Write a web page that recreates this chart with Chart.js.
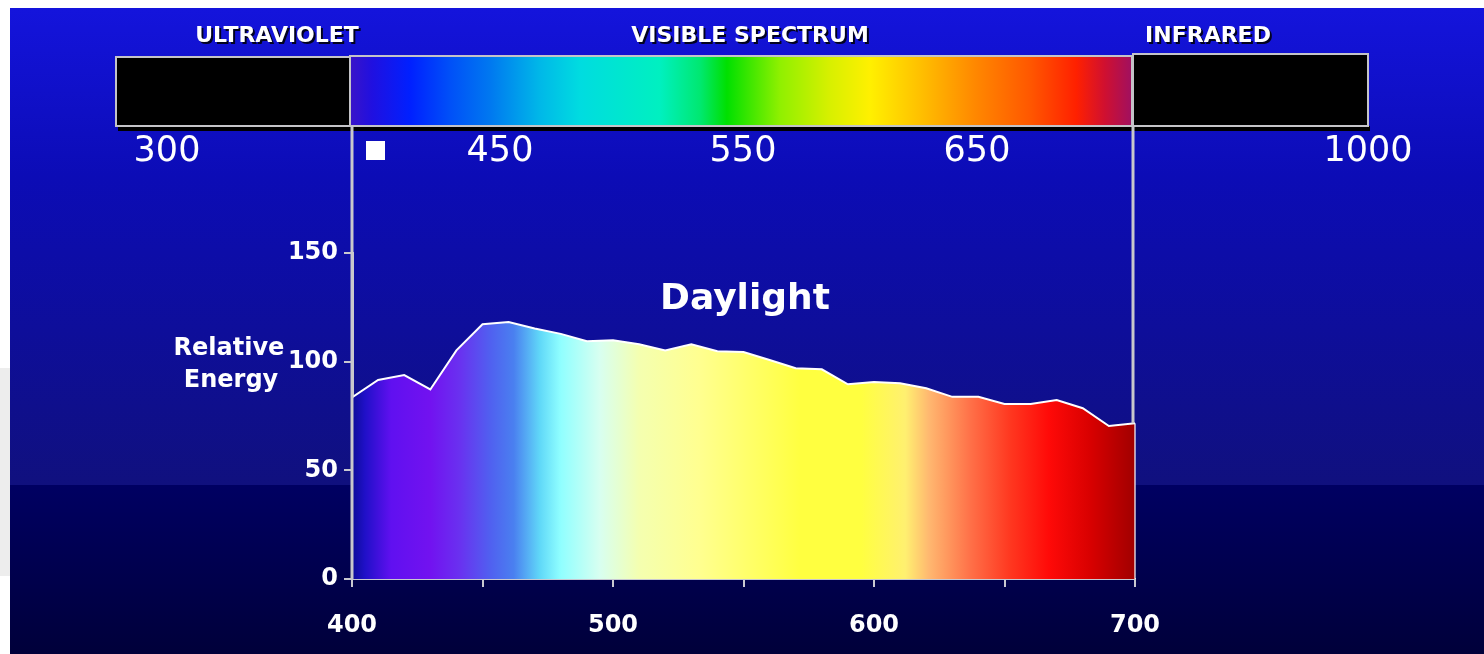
<!DOCTYPE html>
<html>
<head>
<meta charset="utf-8">
<script src="https://cdn.jsdelivr.net/npm/chart.js@4.4.0/dist/chart.umd.min.js"></script>
<style>
  html, body { margin: 0; padding: 0; background: #fff; }
  #wrap { width: 1484px; height: 654px; position: relative; }
</style>
</head>
<body>
<div id="wrap"><canvas id="chart"></canvas></div>
<script>
// daylight spectrum, relative energy every 10 nm
const wavelengths = [400, 410, 420, 430, 440, 450, 460, 470, 480, 490, 500, 510, 520, 530, 540, 550,
    560, 570, 580, 590, 600, 610, 620, 630, 640, 650, 660, 670, 680, 690, 700];
const energy = [83.5, 91.6, 93.8, 87.2, 105.2, 117.2, 118.2, 115.3, 112.8, 109.4, 109.8, 108.0, 105.2, 108.0, 104.8, 104.4,
    100.8, 97.0, 96.5, 89.6, 90.6, 90.1, 87.8, 83.8, 83.8, 80.5, 80.5, 82.3, 78.6, 70.4, 71.7];
const xLabelTicks = [400, 500, 600, 700];
const yTicks = [0, 50, 100, 150];
const bandNames = ['ULTRAVIOLET', 'VISIBLE SPECTRUM', 'INFRARED'];
const bandTicks = ['300', '450', '550', '650', '1000'];

const FONT = '"DejaVu Sans", Verdana, sans-serif';

const spectrumFill = (chart) => {
    const area = chart.chartArea;
    if (!area) return '#ff0';
    const x = chart.scales.x;
    const g = chart.ctx.createLinearGradient(area.left, 0, area.right, 0);
    const stops = [
        [400, '#0c0c98'], [405, '#2010c8'], [415, '#6010f0'], [430, '#7212f0'], [441, '#6a30f0'],
        [453, '#5060f0'], [462, '#4a80f0'], [472, '#60d8f8'], [480, '#90ffff'], [495, '#d8fff0'],
        [510, '#f4ffb0'], [533, '#ffff90'], [572, '#ffff40'], [595, '#ffff40'], [612, '#fff070'],
        [621, '#ffb870'], [637, '#ff7048'], [652, '#ff3820'], [667, '#ff0a08'], [683, '#d80000'], [700, '#a00000']
    ];
    stops.forEach(([nm, c]) => {
        g.addColorStop((x.getPixelForValue(nm) - area.left) / (area.right - area.left), c);
    });
    return g;
};

const backdrop = {
    id: 'backdrop',
    beforeDraw(chart) {
        const {ctx, width, height} = chart;
        ctx.save();
        ctx.fillStyle = '#fff';
        ctx.fillRect(0, 0, width, height);
        ctx.fillStyle = '#ededed';
        ctx.fillRect(0, 368, 10, 208);
        let g = ctx.createLinearGradient(0, 8, 0, 485);
        g.addColorStop(0, '#1414dc');
        g.addColorStop(0.35, '#0c0cb6');
        g.addColorStop(1, '#10107e');
        ctx.fillStyle = g;
        ctx.fillRect(10, 8, width - 10, 477);
        g = ctx.createLinearGradient(0, 485, 0, height);
        g.addColorStop(0, '#000062');
        g.addColorStop(1, '#00003a');
        ctx.fillStyle = g;
        ctx.fillRect(10, 485, width - 10, height - 485);
        ctx.restore();
    }
};

const decor = {
    id: 'decor',
    afterDatasetsDraw(chart) {
        const {ctx, chartArea} = chart;
        const x = chart.scales.x, y = chart.scales.y;
        const x0 = x.getPixelForValue(400), x1 = x.getPixelForValue(700);
        const barTop = 56, barBot = 126;
        ctx.save();

        // shadow under bar
        ctx.fillStyle = '#000';
        ctx.fillRect(118, barBot, 1252, 5);

        // ultraviolet / infrared boxes
        ctx.fillRect(116, barTop + 1, x0 - 2 - 116, barBot - barTop - 1);
        ctx.fillRect(x1 - 2, barTop - 2, 1368 - x1 + 2, barBot - barTop + 2);
        ctx.strokeStyle = '#c4c4c8';
        ctx.lineWidth = 2;
        ctx.strokeRect(116, barTop + 1, x0 - 2 - 116, barBot - barTop - 1);
        ctx.strokeRect(x1 - 2, barTop - 2, 1368 - x1 + 2, barBot - barTop + 2);

        // visible spectrum bar
        const g = ctx.createLinearGradient(x0 - 2, 0, x1 - 3, 0);
        const stops = [
            [0, '#3a14c8'], [0.028, '#2010e0'], [0.077, '#0020ff'], [0.128, '#0050f8'], [0.179, '#0078f0'],
            [0.243, '#00b8e8'], [0.294, '#00dce0'], [0.396, '#00f0c0'], [0.448, '#00e870'], [0.482, '#00e000'],
            [0.55, '#90f000'], [0.614, '#d8f000'], [0.665, '#fff000'], [0.729, '#ffc000'], [0.799, '#ff8800'],
            [0.869, '#ff5800'], [0.929, '#ff2000'], [0.965, '#d01030'], [1, '#a01060']
        ];
        stops.forEach(([p, c]) => g.addColorStop(p, c));
        ctx.fillStyle = g;
        ctx.fillRect(x0 - 2, barTop, x1 - x0 - 1, barBot - barTop);
        ctx.strokeRect(x0 - 2, barTop, x1 - x0 - 1, barBot - barTop);

        // guide lines from bar down to the chart
        ctx.strokeStyle = '#c8c8cc';
        ctx.lineWidth = 3;
        ctx.beginPath();
        ctx.moveTo(x0, barBot);
        ctx.lineTo(x0, chartArea.bottom);
        const yEnd = y.getPixelForValue(energy[energy.length - 1]);
        ctx.moveTo(x1 - 2, barBot);
        ctx.lineTo(x1 - 2, yEnd);
        ctx.stroke();
        ctx.strokeStyle = 'rgba(255,255,255,0.8)';
        ctx.lineWidth = 1.5;
        ctx.beginPath();
        ctx.moveTo(x1, yEnd);
        ctx.lineTo(x1, chartArea.bottom);
        ctx.stroke();

        // band names
        ctx.textAlign = 'center';
        ctx.textBaseline = 'middle';
        ctx.font = 'bold 22px ' + FONT;
        ctx.shadowColor = 'rgba(0,0,0,0.85)';
        ctx.shadowOffsetX = 2;
        ctx.shadowOffsetY = 2;
        ctx.fillStyle = '#fff';
        [277, 750, 1208].forEach((cx, i) => ctx.fillText(bandNames[i], cx, 36));
        ctx.shadowColor = 'transparent';

        // wavelength numbers under bar
        ctx.font = '35px ' + FONT;
        [167, 500, 743, 977, 1368].forEach((cx, i) => ctx.fillText(bandTicks[i], cx, 152));
        ctx.fillRect(366, 141, 19, 19);

        // titles
        ctx.font = 'bold 36px ' + FONT;
        ctx.fillText('Daylight', 745, 300);
        ctx.font = 'bold 24px ' + FONT;
        ctx.fillText('Relative', 229, 349);
        ctx.fillText('Energy', 231, 381);
        ctx.restore();
    }
};

const tickColor = '#c8c8d0';

new Chart(document.getElementById('chart'), {
    type: 'line',
    data: {
        datasets: [{
            data: wavelengths.map((w, i) => ({x: w, y: energy[i]})),
            borderColor: '#ffffff',
            borderWidth: 2,
            pointRadius: 0,
            tension: 0,
            fill: 'origin',
            backgroundColor: (c) => spectrumFill(c.chart)
        }]
    },
    options: {
        responsive: true,
        maintainAspectRatio: false,
        animation: false,
        layout: {padding: {left: 10, top: 253, right: 349, bottom: 0}},
        plugins: {legend: {display: false}, tooltip: {enabled: false}},
        scales: {
            x: {
                type: 'linear',
                min: 400,
                max: 700,
                afterFit: (s) => { s.height = 75; },
                ticks: {
                    stepSize: 50,
                    color: '#fff',
                    padding: 24,
                    font: {family: FONT, size: 24, weight: 'bold'},
                    callback: (v) => xLabelTicks.includes(v) ? String(v) : ''
                },
                grid: {drawOnChartArea: false, color: tickColor, tickLength: 8, lineWidth: 2},
                border: {color: tickColor, width: 2}
            },
            y: {
                min: 0,
                max: 150,
                afterFit: (s) => { s.width = 342; },
                afterBuildTicks: (s) => { s.ticks = yTicks.map(v => ({value: v})); },
                ticks: {
                    color: '#fff',
                    padding: 6,
                    font: {family: FONT, size: 24, weight: 'bold'}
                },
                grid: {drawOnChartArea: false, color: tickColor, tickLength: 8, lineWidth: 2},
                border: {color: tickColor, width: 3}
            }
        }
    },
    plugins: [backdrop, decor]
});
</script>
</body>
</html>
